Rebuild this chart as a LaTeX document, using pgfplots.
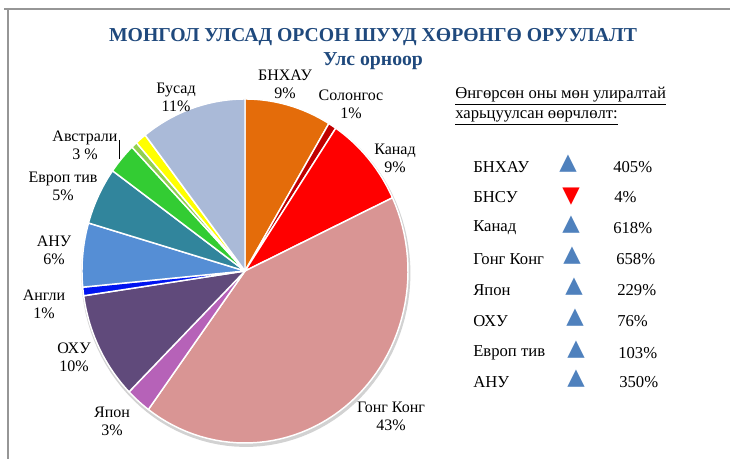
\documentclass[border=0pt]{standalone}
\usepackage{fontspec}
\setmainfont{Liberation Serif}
\newfontfamily\symfont{DejaVu Sans}
\usepackage{pgfplots}
\pgfplotsset{compat=1.18}

\definecolor{titleBlue}{RGB}{31,73,125}
\definecolor{frameGray}{RGB}{150,150,150}
\definecolor{triBlue}{RGB}{79,129,189}
\definecolor{cChina}{RGB}{228,108,10}
\definecolor{cKorea}{RGB}{192,0,0}
\definecolor{cCanada}{RGB}{255,0,0}
\definecolor{cHK}{RGB}{217,149,148}
\definecolor{cJapan}{RGB}{182,98,184}
\definecolor{cRussia}{RGB}{96,74,123}
\definecolor{cUK}{RGB}{0,20,240}
\definecolor{cUSA}{RGB}{85,142,213}
\definecolor{cEurope}{RGB}{49,133,156}
\definecolor{cAus}{RGB}{51,204,51}
\definecolor{cLgreen}{RGB}{146,208,80}
\definecolor{cYellow}{RGB}{255,255,0}
\definecolor{cOther}{RGB}{170,186,216}

% one slice, clockwise from 12 o'clock; #1 = share in percent
\def\cum{0}
\newcommand\slice[2]{%
  \pgfmathsetmacro\sA{90-3.6*\cum}%
  \pgfmathsetmacro\sB{90-3.6*(\cum+#1)}%
  \edef\doslice{\noexpand\addplot[fill=#2, draw=white, line width=1.1pt,
      line join=round, domain=\sB:\sA, samples=60, variable=\noexpand\t]
      ({cos(\noexpand\t)}, {sin(\noexpand\t)}) -- (axis cs:0,0) -- cycle;}%
  \doslice
  \pgfmathsetmacro\tmpc{\cum+#1}\xdef\cum{\tmpc}%
}

\begin{document}
\begin{tikzpicture}[x=0.75pt,y=0.75pt]
\useasboundingbox (0,0) rectangle (730,459);
\draw[frameGray, line width=1.5pt] (4,450) -- (730,450);
\draw[frameGray, line width=1.5pt] (7.5,450.5) -- (7.5,0);

\begin{axis}[
    at={(183.75pt,141pt)}, anchor=center,
    scale only axis, width=244.5pt, height=258pt,
    xmin=-1, xmax=1, ymin=-1, ymax=1,
    hide axis, clip=false,
]
% rim shadow
\addplot[fill=gray!35, draw=none, domain=0:360, samples=120, variable=\t]
    ({0.005+1.01*cos(\t)}, {-0.013+1.01*sin(\t)});
\slice{8.6}{cChina}
\slice{0.8}{cKorea}
\slice{8.6}{cCanada}
\slice{42.1}{cHK}
\slice{2.5}{cJapan}
\slice{10.1}{cRussia}
\slice{0.8}{cUK}
\slice{6.0}{cUSA}
\slice{5.4}{cEurope}
\slice{2.9}{cAus}
\slice{0.6}{cLgreen}
\slice{1.1}{cYellow}
\slice{10.5}{cOther}
\end{axis}

% slice labels
\begin{scope}[every node/.style={align=center, inner sep=0pt,
    font=\fontsize{12pt}{13.5pt}\selectfont}]
\node at (176,362) {Бусад\\11\%};
\node at (285,375) {БНХАУ\\9\%};
\node at (351,355) {Солонгос\\1\%};
\node at (395,301) {Канад\\9\%};
\node at (391,43) {Гонг Конг\\43\%};
\node at (112,38) {Япон\\3\%};
\node at (74,102) {ОХУ\\10\%};
\node at (44,155) {Англи\\1\%};
\node at (54,209) {АНУ\\6\%};
\node at (63,273) {Европ тив\\5\%};
\node at (85,314) {Австрали\\3 \%};
\end{scope}
\draw[black, line width=1.4pt] (119.5,319) -- (119.5,300);

% title
\node[font=\fontsize{14.8pt}{16pt}\selectfont\bfseries, text=titleBlue] at (373,422)
    {МОНГОЛ УЛСАД ОРСОН ШУУД ХӨРӨНГӨ ОРУУЛАЛТ};
\node[font=\fontsize{14.8pt}{16pt}\selectfont\bfseries, text=titleBlue] at (373,398)
    {Улс орноор};

% change panel
\begin{scope}[every node/.style={anchor=west, inner sep=0pt,
    font=\fontsize{12.5pt}{15pt}\selectfont}]
\node at (455,363) {\underline{Өнгөрсөн оны мөн улиралтай}};
\node at (455,341) {\underline{харьцуулсан өөрчлөлт:}};
\node at (473,292) {БНХАУ};      \node at (613,292) {405\%};
\node at (473,262) {БНСУ};       \node at (614,262) {4\%};
\node at (473,231) {Канад};      \node at (613,231) {618\%};
\node at (473,200) {Гонг Конг};  \node at (616,200) {658\%};
\node at (473,169) {Япон};       \node at (617,169) {229\%};
\node at (473,138) {ОХУ};        \node at (617,138) {76\%};
\node at (473,106) {Европ тив};  \node at (618,106) {103\%};
\node at (473,77)  {АНУ};        \node at (619,77)  {350\%};
\end{scope}
\begin{scope}[every node/.style={inner sep=0pt, font=\symfont\fontsize{17pt}{17pt}\selectfont}]
\node[text=triBlue] at (568,295) {▲};
\node[text=red] at (571,262) {▼};
\node[text=triBlue] at (571,234) {▲};
\node[text=triBlue] at (572,203) {▲};
\node[text=triBlue] at (574,172) {▲};
\node[text=triBlue] at (575,141) {▲};
\node[text=triBlue] at (576,109) {▲};
\node[text=triBlue] at (576,80)  {▲};
\end{scope}
\end{tikzpicture}
\end{document}
